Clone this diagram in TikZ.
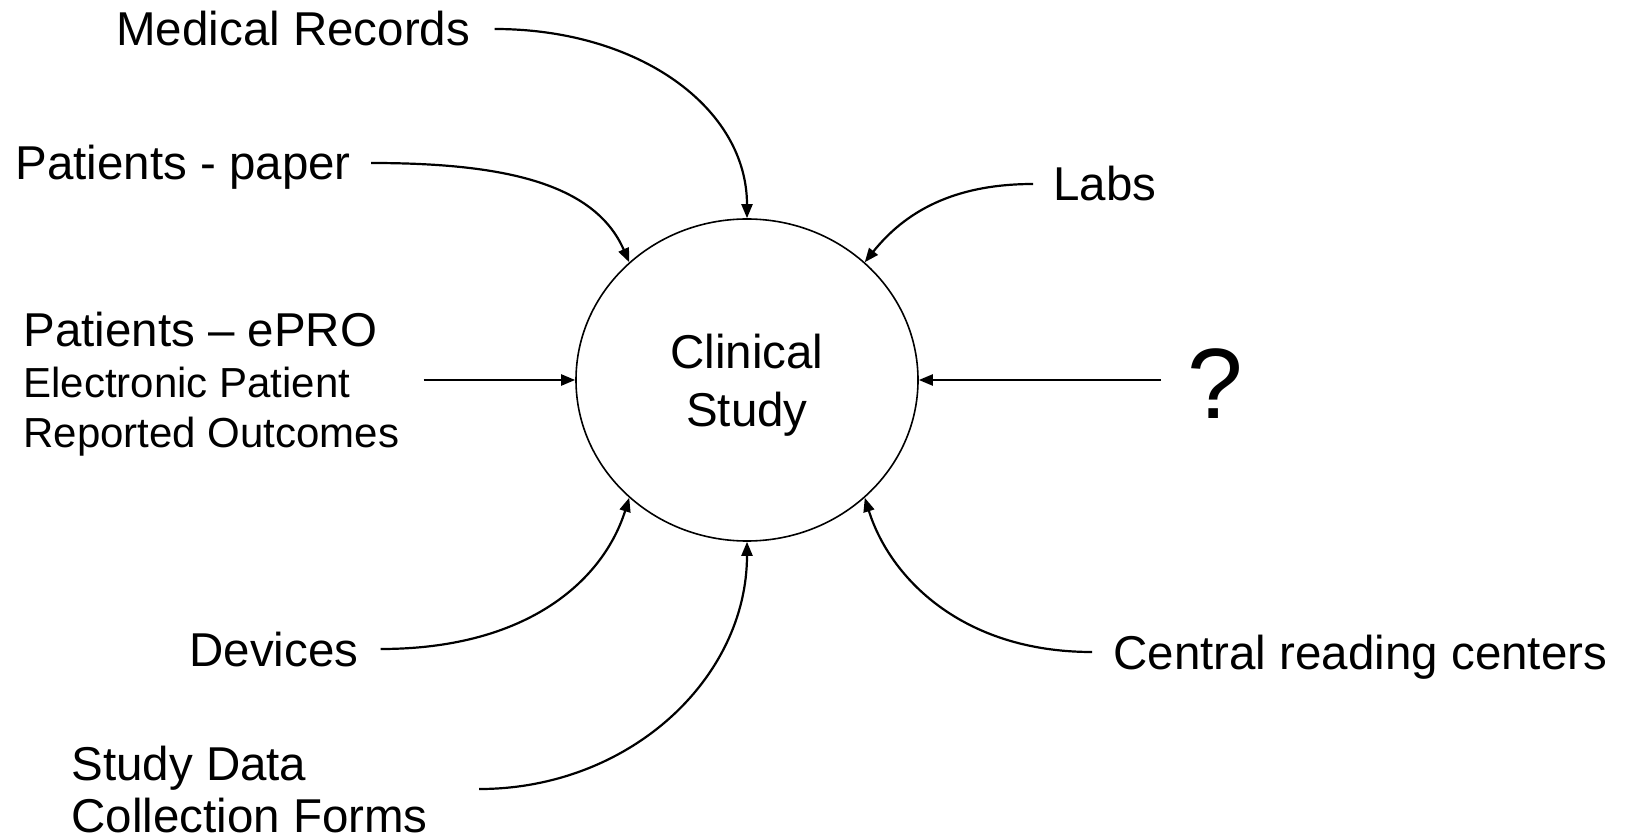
\documentclass[tikz,border=0pt]{standalone}
\usepackage{fontspec}
\setmainfont{Liberation Sans}
\usetikzlibrary{arrows.meta,shapes.geometric}

\newcommand{\bigtxt}{\fontsize{23.75}{29}\selectfont}
\newcommand{\smalltxt}{\fontsize{21}{25}\selectfont}

\begin{document}
\begin{tikzpicture}[x=0.5pt,y=-0.5pt,
  lbl/.style={inner sep=0pt, anchor=base west, align=left, font=\bigtxt},
  feed/.style={line width=1.1pt, -{Triangle[length=7pt,width=5.5pt]}},
  hub/.style={ellipse, draw, line width=0.8pt, inner sep=0pt,
              minimum width=171pt, minimum height=161pt}]
\useasboundingbox (0,0) rectangle (1628,839);

% central process (multi-line nodes sit on their last baseline)
\node[hub] (cs) at (747,380) {};
\node[inner sep=0pt, anchor=base, align=center, font=\bigtxt] (cst) at (747,427) {Clinical\\Study};

% data sources
\node[lbl] (mr) at (116,46) {Medical Records};
\node[lbl] (pp) at (15,180) {Patients - paper};
\node[lbl] (labs) at (1053,201) {Labs};
\node[lbl] (epro) at (23,448) {Patients – ePRO\\[-3pt]\smalltxt Electronic Patient\\[-4pt]\smalltxt Reported Outcomes};
\node[lbl, font=\fontsize{50}{60}\selectfont] (q) at (1187,419) {?};
\node[lbl] (dev) at (189,666) {Devices};
\node[lbl, font=\fontsize{23.75}{26}\selectfont] (sd) at (71,832) {Study Data\\Collection Forms};
\node[lbl] (crc) at (1113,669) {Central reading centers};

% flows into the study
\draw[feed] ([xshift=12pt,yshift=8.5pt]mr.base east)
  .. controls +(145,0) and +(0,-110) .. (cs.north);
\draw[feed] ([xshift=10pt,yshift=8.5pt]pp.base east)
  .. controls +(130,0) and +(-35,-80) .. (cs.135);
\draw[feed] ([xshift=-10pt,yshift=8.5pt]labs.base west)
  .. controls +(-80,0) and +(40,-50) .. (cs.45);
\draw[feed] (epro.east |- cs.west) ++(12pt,0) -- (cs.west);
\draw[feed] (q.west |- cs.east) ++(-13pt,0) -- (cs.east);
\draw[feed] ([xshift=11pt,yshift=8.5pt]dev.base east)
  .. controls +(150,0) and +(-25,80) .. (cs.-135);
\draw[feed] ([xshift=25.5pt]sd.east)
  .. controls +(150,0) and +(0,137) .. (cs.south);
\draw[feed] ([xshift=-10.5pt,yshift=8.5pt]crc.base west)
  .. controls +(-130,0) and +(25,80) .. (cs.-45);
\end{tikzpicture}
\end{document}
